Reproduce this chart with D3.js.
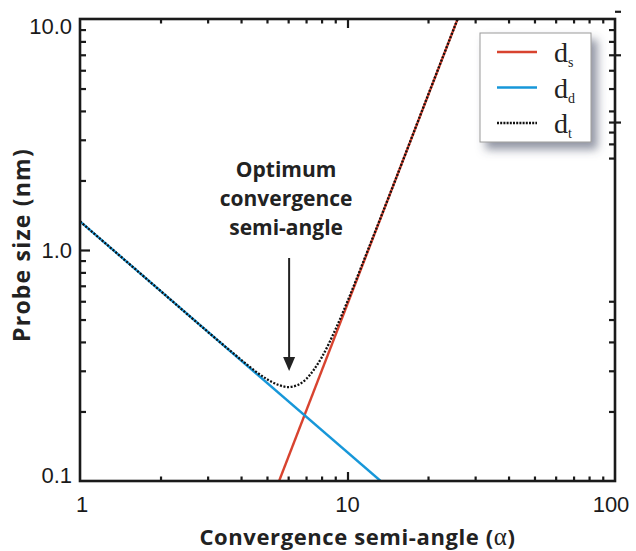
<!DOCTYPE html>
<html>
<head>
<meta charset="utf-8">
<script src="https://cdn.jsdelivr.net/npm/d3@7"></script>
<style>
  body { margin: 0; background: #fff; }
  .tick-label { font-family: "Liberation Sans", Arial, sans-serif; font-size: 22px; fill: #1a1a1a; }
  .title { font-family: "Open Sans", sans-serif; font-weight: 700; font-size: 20px; fill: #222; }
  .legend-text { font-family: "Liberation Serif", "Times New Roman", serif; font-size: 28px; fill: #222; }
</style>
</head>
<body>
<div id="chart"></div>
<script>
var wt = 636;
var ht = 551;
var margin = {top: 19, right: 21, bottom: 70, left: 80};
var width = wt - margin.left - margin.right;
var height = ht - margin.top - margin.bottom;

// data
var xMajor = [1, 10, 100];
var yMajor = [0.1, 1, 10];
var yLabels = ["0.1", "1.0", "10.0"];
var minorSteps = [2, 3, 4, 5, 6, 7, 8, 9];

// spherical aberration limit (straight in log-log)
var dsAlpha = [5.55, 25.8];
var dsSize = [0.1, 10];
// diffraction limit
var ddAlpha = [1, 13.3];
var ddSize = [1.33, 0.1];
// total probe size
var dtAlpha = [1, 2, 3, 4, 4.5, 5, 5.5, 6, 6.5, 7, 7.5, 8, 9, 10, 12, 15, 20, 25.8];
var dtSize = [1.33, 0.665, 0.443, 0.335, 0.300, 0.276, 0.261, 0.255, 0.260, 0.276, 0.304, 0.342, 0.451, 0.600, 1.02, 1.97, 4.68, 10.0];

// odd extra ticks on the right-hand axis of the original
var rightInTicks = [9, 8, 7, 6, 5, 4, 3.58, 3.24, 2.88, 2.5, 0.6, 0.5, 0.4, 0.3, 0.2];
var rightOutTicks = [10.8, 7, 3.58];

var legendKeys = ["s", "d", "t"];

var red = "#d8432f";
var blue = "#1797d9";

var svg = d3.select("#chart").append("svg")
    .attr("width", wt)
    .attr("height", ht);

var defs = svg.append("defs");
defs.append("clipPath").attr("id", "plotclip")
    .append("rect").attr("width", width).attr("height", height);
var shadow = defs.append("filter").attr("id", "shadow")
    .attr("x", "-20%").attr("y", "-20%").attr("width", "160%").attr("height", "160%");
shadow.append("feDropShadow")
    .attr("dx", 6).attr("dy", 7).attr("stdDeviation", 5)
    .attr("flood-color", "#4a5068").attr("flood-opacity", 0.6);

var g = svg.append("g")
    .attr("transform", "translate(" + margin.left + "," + margin.top + ")");

var x = d3.scaleLog().domain([1, 100]).range([0, width]);
var y = d3.scaleLog().domain([0.1, 10]).range([height, 0]);

var minorX = [];
var minorY = [];
[1, 10].forEach(function (d) {
    minorSteps.forEach(function (s) { minorX.push(d * s); });
});
[0.1, 1].forEach(function (d) {
    minorSteps.forEach(function (s) { minorY.push(+(d * s).toFixed(2)); });
});

function tickAxis(axis, values, size, transform) {
    var a = g.append("g")
        .attr("class", "axis")
        .attr("transform", transform || null)
        .call(axis.tickValues(values).tickSize(size).tickFormat(""));
    a.select(".domain").remove();
    a.selectAll("line").attr("stroke", "#1a1a1a").attr("stroke-width", 2.2);
    return a;
}

// bottom / top ticks point inward
tickAxis(d3.axisBottom(x), minorX, -4.5, "translate(0," + height + ")");
tickAxis(d3.axisBottom(x), [10], -9, "translate(0," + height + ")");
tickAxis(d3.axisTop(x), minorX, -4.5);
tickAxis(d3.axisTop(x), [10], -9);
// left ticks
tickAxis(d3.axisLeft(y), minorY, -6);
tickAxis(d3.axisLeft(y), [1], -10);
// right ticks
tickAxis(d3.axisRight(y), rightInTicks, -6, "translate(" + width + ",0)");
tickAxis(d3.axisRight(y), rightOutTicks, 6, "translate(" + width + ",0)");

// lines
var line = d3.line()
    .x(function (d) { return x(d[0]); })
    .y(function (d) { return y(d[1]); });

var plot = g.append("g").attr("clip-path", "url(#plotclip)");

plot.append("path")
    .datum(d3.zip(dsAlpha, dsSize))
    .attr("fill", "none")
    .attr("stroke", red)
    .attr("stroke-width", 2.4)
    .attr("d", line);

plot.append("path")
    .datum(d3.zip(ddAlpha, ddSize))
    .attr("fill", "none")
    .attr("stroke", blue)
    .attr("stroke-width", 2.4)
    .attr("d", line);

plot.append("path")
    .datum(d3.zip(dtAlpha, dtSize))
    .attr("fill", "none")
    .attr("stroke", "#111")
    .attr("stroke-width", 2.3)
    .attr("stroke-dasharray", "2,1.6")
    .attr("d", line.curve(d3.curveMonotoneX));

// frame
g.append("rect")
    .attr("width", width)
    .attr("height", height)
    .attr("fill", "none")
    .attr("stroke", "#1a1a1a")
    .attr("stroke-width", 2.6);

// tick labels
g.selectAll(".ylab")
    .data(yMajor)
    .enter().append("text")
    .attr("class", "tick-label")
    .attr("x", -8)
    .attr("y", function (d) { return Math.min(Math.max(y(d), 7), height - 6); })
    .attr("dy", "0.36em")
    .attr("text-anchor", "end")
    .text(function (d, i) { return yLabels[i]; });

g.selectAll(".xlab")
    .data(xMajor)
    .enter().append("text")
    .attr("class", "tick-label")
    .attr("x", function (d) { return Math.max(Math.min(x(d), width - 4), 2); })
    .attr("y", height + 31)
    .attr("text-anchor", "middle")
    .text(function (d) { return d; });

// axis titles
var xt = g.append("text")
    .attr("class", "title")
    .attr("x", width / 2 + 10)
    .attr("y", height + 64)
    .attr("text-anchor", "middle")
    .style("font-size", "22px")
    .style("letter-spacing", "0.6px")
    .text("Convergence semi-angle (");
xt.append("tspan")
    .style("font-family", "'Liberation Serif', serif")
    .style("font-weight", 400)
    .style("font-size", "25px")
    .text("\u03b1");
xt.append("tspan").text(")");

g.append("text")
    .attr("class", "title")
    .attr("transform", "translate(" + (-50) + "," + (y(1) - 5) + ") rotate(-90)")
    .attr("text-anchor", "middle")
    .style("font-size", "23px")
    .style("letter-spacing", "1.2px")
    .text("Probe size (nm)");

// annotation
var note = ["Optimum", "convergence", "semi-angle"];
var ax = x(6.05);
g.selectAll(".note")
    .data(note)
    .enter().append("text")
    .attr("class", "title")
    .attr("x", ax - 3)
    .attr("y", function (d, i) { return 158 + i * 29; })
    .attr("text-anchor", "middle")
    .style("font-size", "21px")
    .text(function (d) { return d; });

g.append("line")
    .attr("x1", ax).attr("x2", ax)
    .attr("y1", 239).attr("y2", 340)
    .attr("stroke", "#222")
    .attr("stroke-width", 2);
g.append("path")
    .attr("d", "M" + (ax - 6) + ",338 L" + (ax + 6) + ",338 L" + ax + ",352 Z")
    .attr("fill", "#222");

// legend
var lg = g.append("g").attr("transform", "translate(" + (480 - margin.left) + "," + (33 - margin.top) + ")");
lg.append("rect")
    .attr("width", 111)
    .attr("height", 109)
    .attr("fill", "#fff")
    .attr("stroke", "#9a9a9a")
    .attr("stroke-width", 1)
    .attr("filter", "url(#shadow)");

var legendStyle = [
    {stroke: red, dash: null},
    {stroke: blue, dash: null},
    {stroke: "#111", dash: "2,1.2"}
];
var item = lg.selectAll(".item")
    .data(legendKeys)
    .enter().append("g")
    .attr("transform", function (d, i) { return "translate(0," + (19 + i * 35.5) + ")"; });
item.append("line")
    .attr("x1", 17).attr("x2", 57)
    .attr("stroke", function (d, i) { return legendStyle[i].stroke; })
    .attr("stroke-dasharray", function (d, i) { return legendStyle[i].dash; })
    .attr("stroke-width", 2.4);
var lt = item.append("text")
    .attr("class", "legend-text")
    .attr("x", 74)
    .attr("y", 10)
    .text("d");
lt.append("tspan")
    .attr("dy", 5)
    .style("font-size", "14px")
    .text(function (d) { return d; });
</script>
</body>
</html>
